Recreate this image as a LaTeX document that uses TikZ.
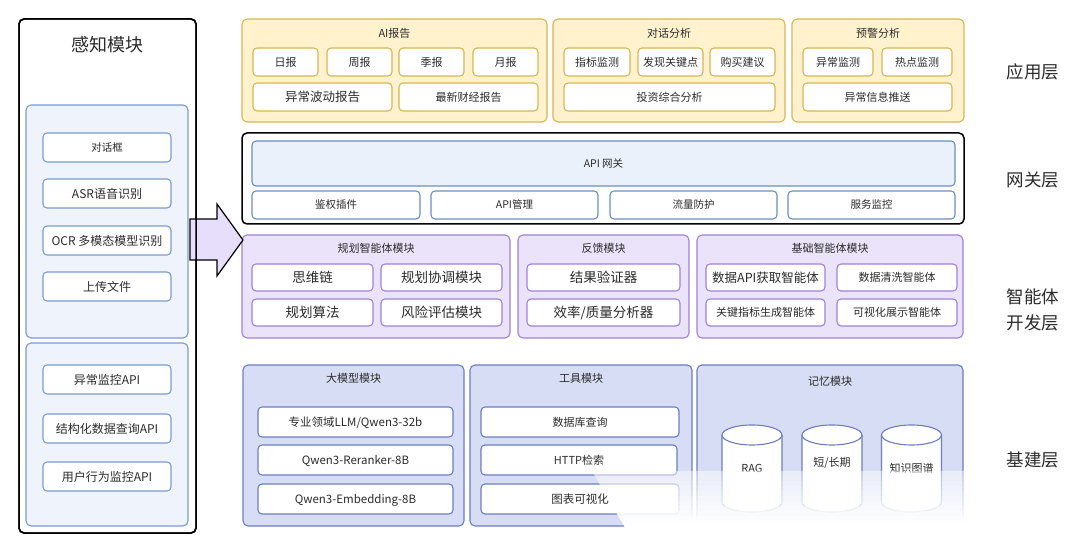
\documentclass[tikz,border=0pt]{standalone}
\usepackage{fontspec}
\setmainfont{Noto Sans CJK SC}
\usetikzlibrary{fit}

\definecolor{ink}{HTML}{2B2B2B}
\definecolor{appfill}{HTML}{FFF2CC}
\definecolor{appline}{HTML}{D6B656}
\definecolor{gwfill}{HTML}{EAF1FB}
\definecolor{gwline}{HTML}{6C8EBF}
\definecolor{agfill}{HTML}{EBE3FA}
\definecolor{agline}{HTML}{9F82D9}
\definecolor{infill}{HTML}{D6DDF4}
\definecolor{infline}{HTML}{6D7DC0}
\definecolor{pcfill}{HTML}{EEF3FC}
\definecolor{pcline}{HTML}{7B9AD0}
\definecolor{arrfill}{HTML}{E6DEFB}

\tikzset{
  every node/.style={text=ink},
  fs/.style={font=\fontsize{#1}{#1}\selectfont},
  txt/.style={fs=#1, anchor=base, inner sep=0pt},
  grp/.style={rounded corners=5pt, line width=1.1pt, inner sep=0pt},
  itm/.style={rounded corners=4pt, line width=1.1pt, inner sep=0pt, fill=white},
  appg/.style={grp, draw=appline, fill=appfill},
  appi/.style={itm, draw=appline},
  gwo/.style={grp, draw=black, line width=1.5pt, fill=white},
  gwh/.style={itm, draw=gwline, fill=gwfill},
  gwi/.style={itm, draw=gwline},
  agg/.style={grp, draw=agline, fill=agfill},
  agi/.style={itm, draw=agline},
  ing/.style={grp, draw=infline, fill=infill},
  ini/.style={itm, draw=infline},
  pco/.style={grp, draw=black, line width=1.5pt, fill=white},
  pcg/.style={grp, draw=pcline, fill=pcfill},
  pci/.style={itm, draw=pcline},
  cyl/.style={draw=infline, line width=1.1pt},
}

% box from corner (x1,y1) to corner (x2,y2), text centred on it
\newcommand\putbox[8][11]{%
  \node[#2, fit={(#4,#5)(#6,#7)}] (#3) {};
  \node[txt=#1] (#3-t) at ([yshift={-0.38*#1}]#3.center) {#8};}
% free text centred on (x,y)
\newcommand\putlabel[5][11]{\node[txt=#1] (#2) at (#3,#4+0.38*#1) {#5};}
% storage drum: name, centre x, top y
\newcommand\drum[3]{%
  \draw[cyl, fill=white] (#2-30,#3+10) -- (#2-30,502)
    arc[start angle=180, end angle=360, x radius=30pt, y radius=10pt]
    -- (#2+30,#3+10)
    arc[start angle=0, end angle=180, x radius=30pt, y radius=10pt];
  \draw[cyl] (#2-30,#3+10) arc[start angle=180, end angle=360, x radius=30pt, y radius=10pt];
  \coordinate (#1) at (#2,#3);
}

\begin{document}
\begin{tikzpicture}[x=1pt, y=-1pt]
\fill[white] (0,0) rectangle (1080,553);
\useasboundingbox (0,0) rectangle (1080,553);

% ---------- perception panel ----------
\putbox{pco}{panel}{19}{19}{196}{533}{}
\putlabel[18]{panelT}{107}{45}{感知模块}
\putbox{pcg}{inA}{26}{105}{188}{338}{}
\putbox[10.5]{pci}{dlgbox}{43}{133}{171}{162}{对话框}
\putbox[12]{pci}{asr}{43}{179}{171}{208}{ASR语音识别}
\putbox[12]{pci}{ocr}{43}{226}{171}{255}{OCR 多模态模型识别}
\putbox[12]{pci}{upl}{43}{272}{171}{301}{上传文件}
\putbox{pcg}{inB}{26}{343}{188}{526}{}
\putbox[12]{pci}{anapi}{43}{365}{171}{394}{异常监控API}
\putbox[12]{pci}{sqapi}{43}{414}{171}{443}{结构化数据查询API}
\putbox[12]{pci}{uapi}{43}{462}{171}{491}{用户行为监控API}

% ---------- application layer ----------
\putbox{appg}{ai}{242}{19}{547}{122}{}
\putlabel{aiT}{394.5}{33}{AI报告}
\putbox{appi}{daily}{253}{48}{318}{76}{日报}
\putbox{appi}{weekly}{327}{48}{392}{76}{周报}
\putbox{appi}{season}{399}{48}{464}{76}{季报}
\putbox{appi}{monthly}{473}{48}{538}{76}{月报}
\putbox[12.5]{appi}{fluct}{253}{83}{392}{111}{异常波动报告}
\putbox{appi}{fin}{399}{83}{538}{111}{最新财经报告}

\putbox{appg}{dlg}{553}{19}{785}{122}{}
\putlabel{dlgT}{669}{33}{对话分析}
\putbox{appi}{kpi}{564}{48}{630}{76}{指标监测}
\putbox{appi}{key}{638}{48}{703}{76}{发现关键点}
\putbox{appi}{buy}{710}{48}{775}{76}{购买建议}
\putbox{appi}{invest}{564}{83}{775}{111}{投资综合分析}

\putbox{appg}{warn}{792}{19}{964}{122}{}
\putlabel{warnT}{878}{33}{预警分析}
\putbox{appi}{anom}{803}{48}{873}{76}{异常监测}
\putbox{appi}{hot}{882}{48}{952}{76}{热点监测}
\putbox{appi}{push}{803}{83}{952}{111}{异常信息推送}

% ---------- gateway layer ----------
\putbox{gwo}{gw}{242}{133}{964}{224}{}
\putbox[10.5]{gwh}{gwhead}{252}{141}{955}{186}{API 网关}
\putbox[10.5]{gwi}{auth}{252}{191}{420}{219}{鉴权插件}
\putbox[10.5]{gwi}{apim}{431}{191}{598}{219}{API管理}
\putbox[10.5]{gwi}{flow}{610}{191}{777}{219}{流量防护}
\putbox[10.5]{gwi}{svc}{788}{191}{955}{219}{服务监控}

% ---------- agent development layer ----------
\putbox{agg}{plan}{242}{235}{510}{338}{}
\putlabel{planT}{376}{248}{规划智能体模块}
\putbox[13.5]{agi}{cot}{252}{264}{373}{291}{思维链}
\putbox[13.5]{agi}{coord}{381}{264}{502}{291}{规划协调模块}
\putbox[13.5]{agi}{algo}{252}{299}{373}{326}{规划算法}
\putbox[13.5]{agi}{risk}{381}{299}{502}{326}{风险评估模块}

\putbox{agg}{fb}{518}{235}{689}{338}{}
\putlabel{fbT}{603.5}{248}{反馈模块}
\putbox[13.5]{agi}{verify}{527}{264}{680}{291}{结果验证器}
\putbox[13.5]{agi}{quality}{527}{299}{680}{326}{效率/质量分析器}

\putbox{agg}{base}{697}{235}{963}{338}{}
\putlabel{baseT}{830}{248}{基础智能体模块}
\putbox[12.5]{agi}{fetch}{706}{264}{825}{291}{数据API获取智能体}
\putbox{agi}{clean}{837}{264}{957}{291}{数据清洗智能体}
\putbox{agi}{metric}{706}{299}{825}{326}{关键指标生成智能体}
\putbox{agi}{vis}{837}{299}{957}{326}{可视化展示智能体}

% ---------- infrastructure layer ----------
\putbox{ing}{llm}{243}{365}{464}{526}{}
\putlabel{llmT}{353.5}{378}{大模型模块}
\putbox[11.5]{ini}{qwen}{258}{407}{453}{437}{专业领域LLM/Qwen3-32b}
\putbox[11.5]{ini}{rerank}{258}{445}{453}{475}{Qwen3-Reranker-8B}
\putbox[11.5]{ini}{embed}{258}{484}{453}{514}{Qwen3-Embedding-8B}

\putbox{ing}{tool}{470}{365}{692}{526}{}
\putlabel{toolT}{581}{378}{工具模块}
\putbox{ini}{db}{481}{407}{679}{437}{数据库查询}
\putbox{ini}{http}{481}{445}{677}{475}{HTTP检索}
\putbox[11.5]{ini}{chart}{481}{484}{679}{514}{图表可视化}

\putbox{ing}{mem}{697}{365}{963}{526}{}
\putlabel{memT}{830}{381}{记忆模块}
\drum{ragD}{752}{425}
\drum{stlD}{832}{425}
\drum{kgD}{911.5}{425}
\putlabel{rag}{752}{468}{RAG}
\putlabel{stl}{832}{462}{短/长期}
\putlabel{kg}{911.5}{468}{知识图谱}

% ---------- block arrow from the perception panel ----------
\filldraw[fill=arrfill, draw=black, line width=1.2pt, line join=miter]
  (190,219) -- (217,219) -- (217,204) -- (243,240) -- (217,276)
  -- (217,260) -- (190,260) -- cycle;
\draw[black, line width=1.5pt, rounded corners=5pt] (19,19) rectangle (196,533);

% ---------- layer names ----------
\putlabel[17.5]{lApp}{1033}{72}{应用层}
\putlabel[17.5]{lGw}{1033}{180}{网关层}
\putlabel[17.5]{lAg1}{1033}{297}{智能体}
\putlabel[17.5]{lAg2}{1033}{323}{开发层}
\putlabel[17.5]{lInf}{1033}{460}{基建层}

% ---------- white haze over the lower right corner ----------
% strips growing more opaque downwards, left edge slanting to the right
\foreach \k in {0,...,10} {
  \fill[white, fill opacity={0.5+0.05*\k}]
    ({592+5*\k*0.585},{471+5*\k}) -- (985,{471+5*\k}) -- (985,{476+5*\k})
    -- ({592+(5*\k+5)*0.585},{476+5*\k}) -- cycle;
}
\fill[white] ({592+55*0.585},526) -- (985,526) -- (985,553) -- (640,553) -- cycle;
\end{tikzpicture}
\end{document}
